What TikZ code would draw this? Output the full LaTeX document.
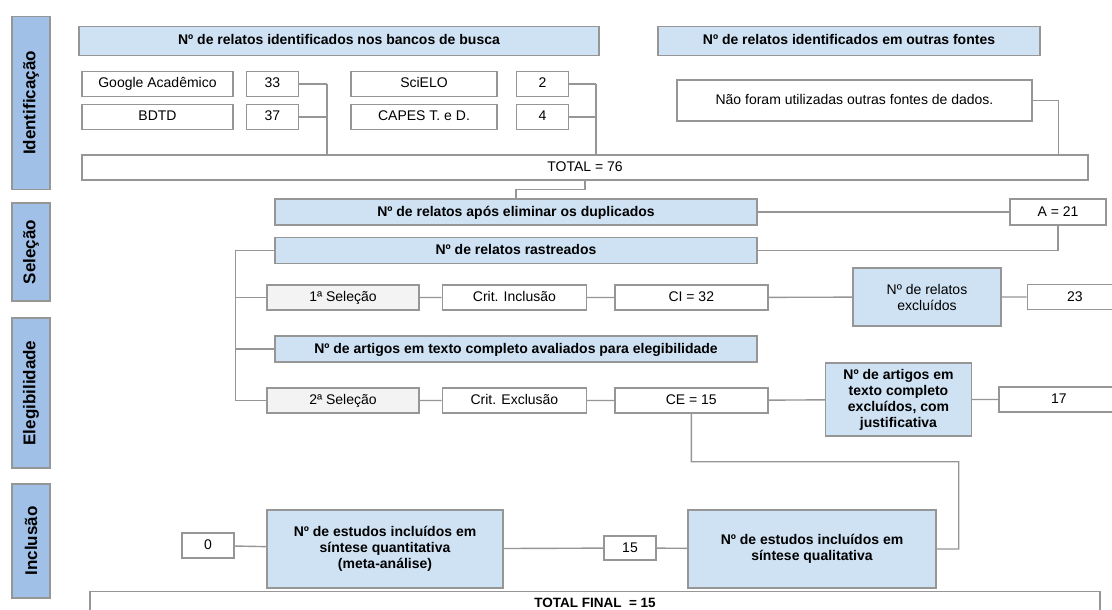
\documentclass[tikz,border=0pt]{standalone}
\usepackage{fontspec}
\setmainfont{Liberation Sans}
\usetikzlibrary{positioning,calc}
\definecolor{BoxLine}{RGB}{150,150,150}
\definecolor{HeadBlue}{RGB}{207,226,243}
\definecolor{StageBlue}{RGB}{160,192,232}
\definecolor{PaleGray}{RGB}{243,243,243}
\tikzset{%
  stage/.style={%
    draw=BoxLine, fill=StageBlue, line width=1.4pt, rotate=90,
    minimum height=38pt, inner sep=0pt, font=\fontsize{17}{19}\selectfont\bfseries
  },
  header/.style={%
    draw=BoxLine, fill=HeadBlue, line width=1.4pt, minimum width=482pt,
    minimum height=26pt, inner sep=0pt, text height=10pt, text depth=2pt,
    font=\fontsize{14}{16}\selectfont\bfseries
  },
  plain/.style={%
    draw=BoxLine, fill=white, line width=1.4pt, minimum height=25pt,
    inner sep=0pt, text height=10pt, text depth=2pt, font=\fontsize{14}{16}\selectfont
  },
  pick/.style={plain, fill=PaleGray, minimum width=152pt},
  num/.style={plain, minimum width=52pt},
  result/.style={%
    draw=BoxLine, fill=HeadBlue, line width=1.4pt, align=center,
    inner sep=0pt, font=\fontsize{14}{16}\selectfont\bfseries
  },
  link/.style={draw=BoxLine, line width=1.4pt},
}

\begin{document}
\begin{tikzpicture}[x=1pt, y=-1pt]
    \clip (0,0) rectangle (1112,610);
    \fill[white] (0,0) rectangle (1112,610);

    % stages on the left
    \node (IDENT)[stage, minimum width=173pt] at (31,103) {Identificação};
    \node (SELEC)[stage, minimum width=98pt] at (31,252) {Seleção};
    \node (ELEG)[stage, minimum width=150pt] at (31,393) {Elegibilidade};
    \node (INCL)[stage, minimum width=114pt] at (31,541) {Inclusão};

    % identification
    \node (Bancos)[header, minimum width=520pt, minimum height=29pt] at (339,41)
        {Nº de relatos identificados nos bancos de busca};
    \node (Outras)[header, minimum width=382pt, minimum height=29pt] at (849,41)
        {Nº de relatos identificados em outras fontes};

    \node (Google)[plain, minimum width=151pt] at (157.5,84) {Google Acadêmico};
    \node (N33)[num, right=12pt of Google] {33};
    \node (BDTD)[plain, minimum width=151pt] at (157.5,117) {BDTD};
    \node (N37)[num, right=12pt of BDTD] {37};
    \node (SciELO)[plain, minimum width=146pt] at (424,84) {SciELO};
    \node (N2)[num, right=18pt of SciELO] {2};
    \node (CAPES)[plain, minimum width=146pt] at (424,117) {CAPES T. e D.};
    \node (N4)[num, right=18pt of CAPES] {4};
    \node (SemFontes)[plain, minimum width=355pt, minimum height=41pt] at (854.5,100.5)
        {Não foram utilizadas outras fontes de dados.};

    \node (TOTAL)[plain, minimum width=1006pt] at (585,167.5) {TOTAL = 76};

    % selection
    \node (Duplicados)[header] at (516,212) {Nº de relatos após eliminar os duplicados};
    \node (A21)[plain, minimum width=96pt, minimum height=26pt] at (1058,212) {A = 21};
    \node (Rastreados)[header] at (516,250.5) {Nº de relatos rastreados};

    \node (Selecao1)[pick] at (343,297.5) {1ª Seleção};
    \node (CritInc)[plain, minimum width=144pt, right=22pt of Selecao1] {Crit. Inclusão};
    \node (CI)[plain, minimum width=153pt, right=27pt of CritInc] {CI = 32};
    \node (RelExcl)[result, font=\fontsize{14}{16}\selectfont, minimum width=148pt, minimum height=58pt]
        at (927,297) {Nº de relatos\\excluídos};
    \node (N23)[plain, minimum width=95pt, right=25pt of RelExcl] {23};

    % eligibility
    \node (Artigos)[header] at (516,349)
        {Nº de artigos em texto completo avaliados para elegibilidade};
    \node (Selecao2)[pick] at (343,400.5) {2ª Seleção};
    \node (CritExc)[plain, minimum width=144pt, right=22pt of Selecao2] {Crit. Exclusão};
    \node (CE)[plain, minimum width=153pt, right=27pt of CritExc] {CE = 15};
    \node (ArtExcl)[result, minimum width=146pt, minimum height=73pt]
        at (898.5,399.5) {Nº de artigos em\\texto completo\\excluídos, com\\justificativa};
    \node (N17)[plain, minimum width=120pt, right=26pt of ArtExcl] {17};

    % inclusion
    \node (Zero)[num] at (208,545.5) {0};
    \node (Quant)[result, minimum width=236pt, minimum height=78pt]
        at (385,549) {Nº de estudos incluídos em\\síntese quantitativa\\(meta-análise)};
    \node (N15)[num, minimum height=24pt] at (630,548) {15};
    \node (Qual)[result, minimum width=248pt, minimum height=78pt]
        at (812,549) {Nº de estudos incluídos em\\síntese qualitativa};
    \node (FINAL)[plain, minimum width=1010pt, minimum height=0pt, anchor=north,
        text height=16pt, text depth=30pt, font=\fontsize{13.5}{16}\selectfont\bfseries]
        at (595,591) {TOTAL FINAL~~= 15};

    % connectors
    \path[link]
        (N33.east) -- ++(28,0) coordinate (jBancos)
        (N37.east) -- (N37.east -| jBancos)
        (jBancos) -- (jBancos |- TOTAL.north)
        (N2.east) -- ++(27,0) coordinate (jScielo)
        (N4.east) -- (N4.east -| jScielo)
        (jScielo) -- (jScielo |- TOTAL.north)
        (SemFontes.east) -- ++(26,0) coordinate (jOutras)
        (jOutras) -- (jOutras |- TOTAL.north);

    \path[link]
        (TOTAL.south) -- ++(0,9) -| (Duplicados.north)
        (Duplicados.east) -- (A21.west)
        (Rastreados.east) -| (A21.south);

    \path[link]
        (Rastreados.west) -- ++(-39,0) coordinate (jLeft)
        (jLeft) -- (jLeft |- Selecao2.west) -- (Selecao2.west)
        (Selecao1.west) -- (Selecao1.west -| jLeft)
        (Artigos.west) -- (Artigos.west -| jLeft);

    \path[link]
        (Selecao1) -- (CritInc) (CritInc) -- (CI) (CI) -- (RelExcl) (RelExcl) -- (N23)
        (Selecao2) -- (CritExc) (CritExc) -- (CE) (CE) -- (ArtExcl) (ArtExcl) -- (N17);

    \path[link]
        (CE.south) -- ++(0,48) -| ($(Qual.east)+(22,0)$) -- (Qual.east)
        (Zero) -- (Quant) (Quant) -- (N15) (N15) -- (Qual);
\end{tikzpicture}
\end{document}
